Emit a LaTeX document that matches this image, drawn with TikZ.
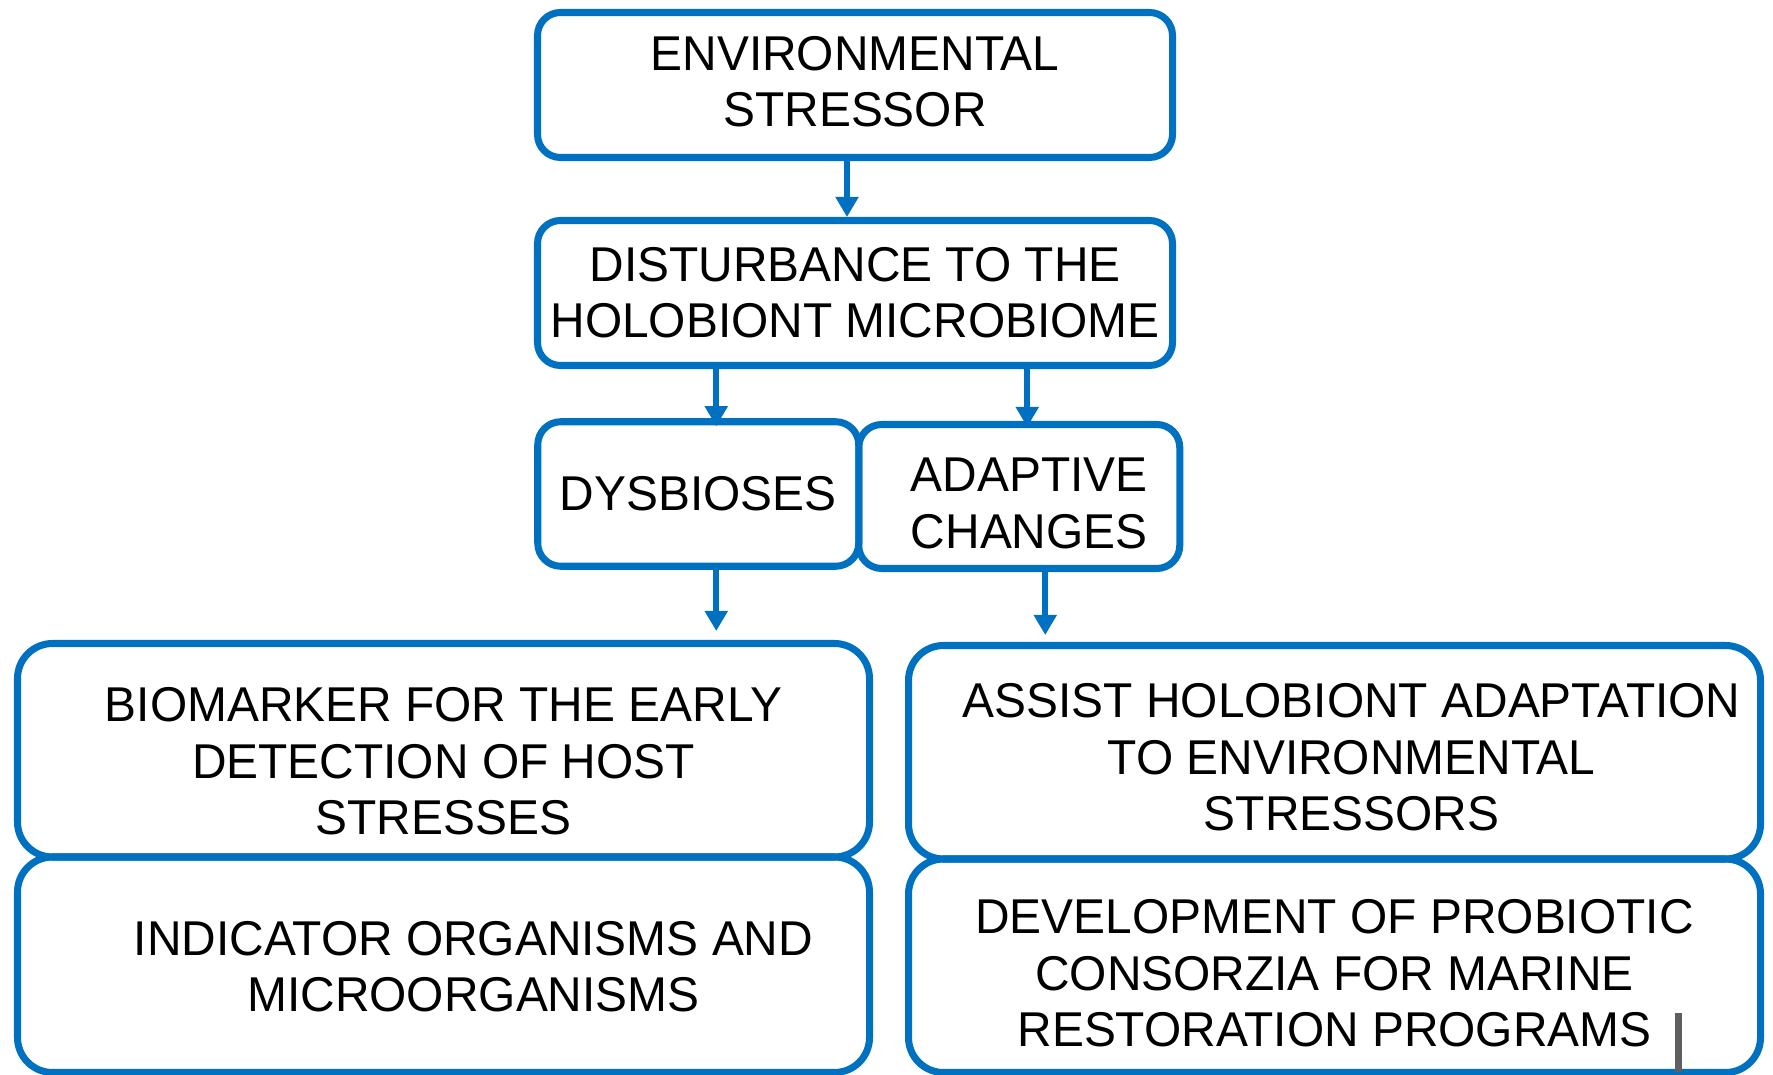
\documentclass[tikz,border=0pt]{standalone}
\usepackage{fontspec}
\setmainfont[FakeStretch=0.98]{Liberation Sans}
\usetikzlibrary{arrows.meta}

\definecolor{boxblue}{HTML}{0070C0}
\definecolor{cursorgray}{HTML}{5F5F5F}

\begin{document}
\begin{tikzpicture}[
    box/.style={rectangle, draw=boxblue, line width=2pt, rounded corners=2.3mm, inner sep=0pt, align=center, font=\fontsize{13.9}{16}\selectfont},
    smallbox/.style={box, minimum width=3.21cm, minimum height=1.445cm},
    bigbox/.style={box, rounded corners=3.5mm, minimum width=8.52cm, minimum height=2.135cm},
    txt/.style={inner sep=0pt, align=center, font=\fontsize{13.9}{16}\selectfont},
    arrow/.style={draw=boxblue, line width=1.7pt, -{Triangle[width=2.2mm,length=2mm]}}
  ]
  \useasboundingbox (0,0) rectangle (17.73,-10.75);

  % Define boxes
  \node[box, minimum width=6.35cm, minimum height=1.45cm] (stressor) at (8.55,-0.85) {};
  \node[txt] (stressortxt) at ([yshift=0.3mm]stressor.center) {ENVIRONMENTAL\\STRESSOR};
  \node[box, minimum width=6.35cm, minimum height=1.45cm] (disturbance) at (8.55,-2.93) {DISTURBANCE TO THE\\HOLOBIONT MICROBIOME};
  \node[smallbox] (dysbioses) at (6.9825,-4.94) {DYSBIOSES};
  \node[smallbox, minimum height=1.44cm] (adaptive) at (10.1925,-4.965) {};
  \node[txt] (adaptivetxt) at ([xshift=1mm,yshift=-0.7mm]adaptive.center) {ADAPTIVE\\CHANGES};

  \node[bigbox] (biomarker) at (4.435,-7.5025) {};
  \node[txt] (biomarkertxt) at ([yshift=-1.1mm]biomarker.center) {BIOMARKER FOR THE EARLY\\DETECTION OF HOST\\STRESSES};
  \node[bigbox, minimum height=2.155cm] (indicator) at (4.435,-9.6475) {};
  \node[txt] (indicatortxt) at ([xshift=3mm,yshift=-0.2mm]indicator.center) {INDICATOR ORGANISMS AND\\MICROORGANISMS};
  \node[bigbox] (assist) at (13.345,-7.5225) {};
  \node[txt] (assisttxt) at ([xshift=1.7mm,yshift=-0.5mm]assist.center) {ASSIST HOLOBIONT ADAPTATION\\TO ENVIRONMENTAL\\STRESSORS};
  \node[bigbox] (probiotic) at (13.345,-9.6575) {};
  \node[txt] (probiotictxt) at ([yshift=-0.75mm]probiotic.center) {DEVELOPMENT OF PROBIOTIC\\CONSORZIA FOR MARINE\\RESTORATION PROGRAMS};

  % Draw arrows
  \draw[arrow] ([xshift=-0.8mm]stressor.south) -- ([xshift=-0.8mm]disturbance.north);
  \draw[arrow, shorten >=-0.8mm] ([xshift=1.8mm]dysbioses.north |- disturbance.south) -- ([xshift=1.8mm]dysbioses.north);
  \draw[arrow, shorten >=-0.6mm] ([xshift=0.8mm]adaptive.north |- disturbance.south) -- ([xshift=0.8mm]adaptive.north);
  \draw[arrow, shorten >=0.9mm] ([xshift=1.8mm]dysbioses.south) -- ([xshift=1.8mm]dysbioses.south |- biomarker.north);
  \draw[arrow, shorten >=0.7mm] ([xshift=2.6mm]adaptive.south) -- ([xshift=2.6mm]adaptive.south |- assist.north);

  % text cursor left in the last box
  \fill[cursorgray] (16.745,-10.13) rectangle (16.815,-10.72);
\end{tikzpicture}
\end{document}
